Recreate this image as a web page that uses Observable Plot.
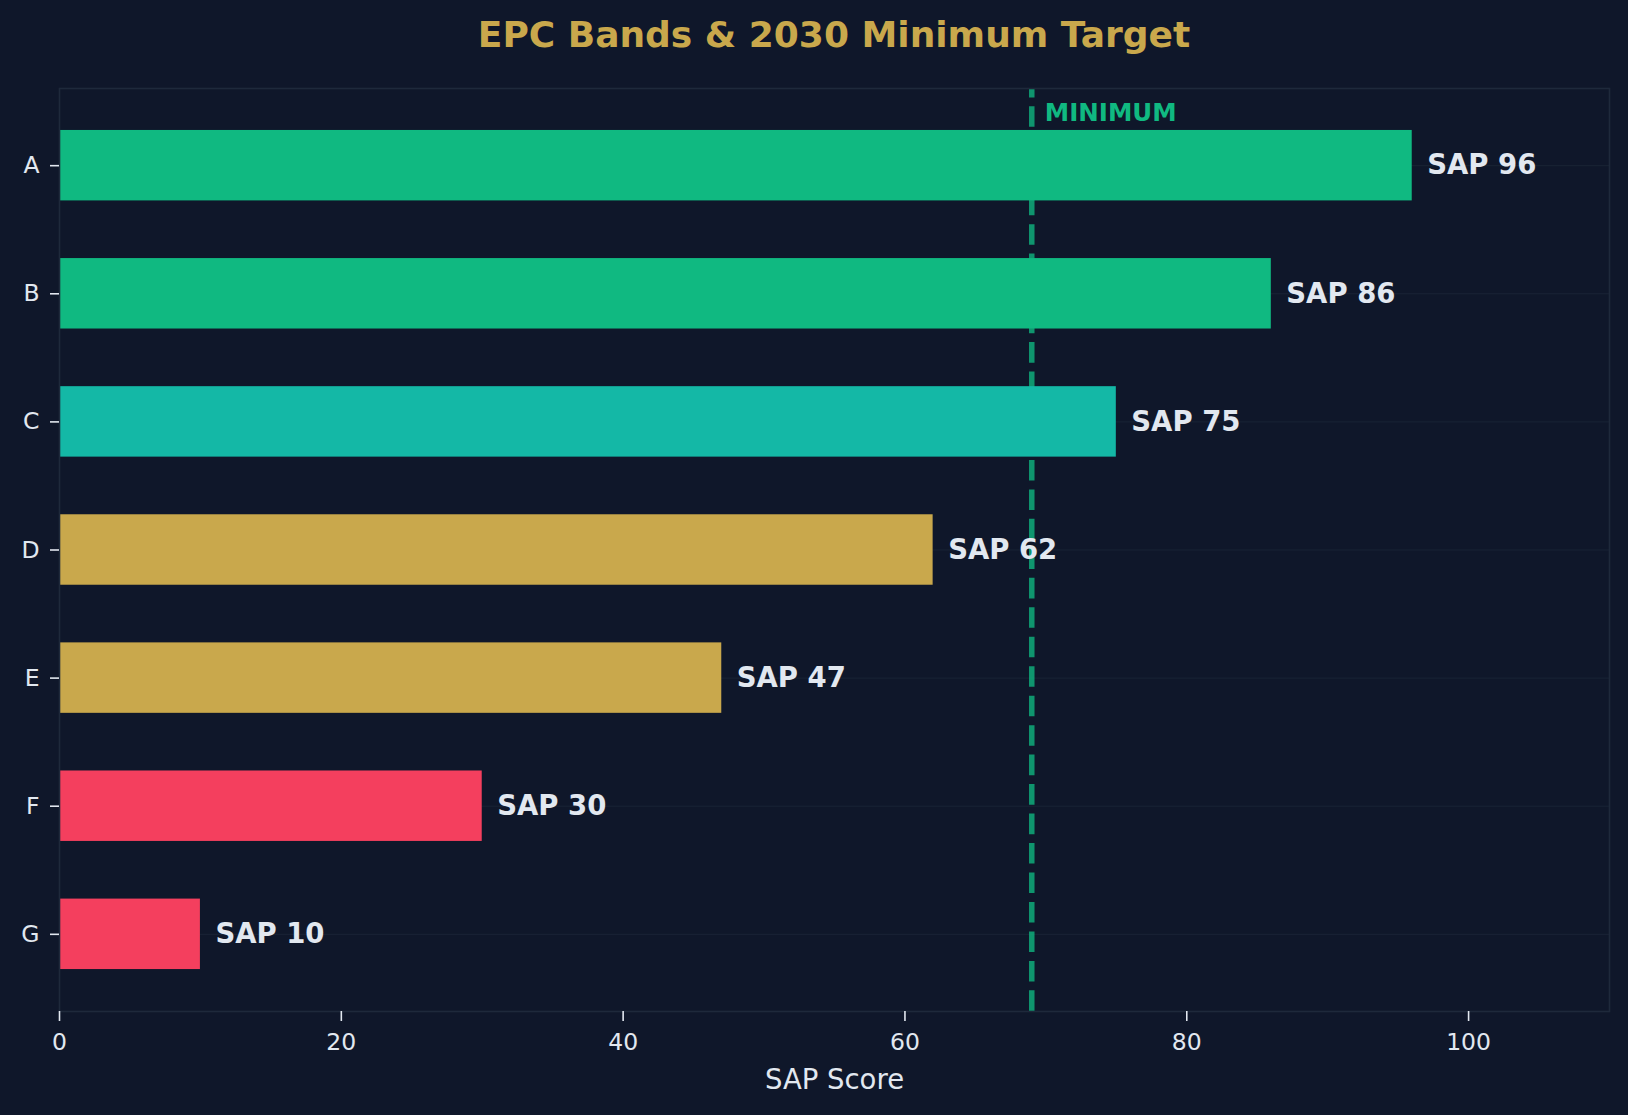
<!DOCTYPE html>
<html>
<head>
<meta charset="utf-8">
<script src="https://cdn.jsdelivr.net/npm/d3@7"></script>
<script src="https://cdn.jsdelivr.net/npm/@observablehq/plot@0.6"></script>
<style>
  html, body { margin: 0; padding: 0; background: #0f172a; }
  #title {
    margin-left: 59px;
    width: 1550px;
    height: 70px;
    font: bold 36px/70px "DejaVu Sans", sans-serif;
    text-align: center;
    color: #c9a84c;
  }
  #chart svg { display: block; }
</style>
</head>
<body>
<div id="title">EPC Bands &amp; 2030 Minimum Target</div>
<div id="chart"></div>
<script>
// EPC rating bands and the typical SAP score for each
const bands = ["A", "B", "C", "D", "E", "F", "G"];
const sapScores = [96, 86, 75, 62, 47, 30, 10];
// Grouping used for bar colour
const tiers = ["top", "top", "target", "mid", "mid", "low", "low"];
// 2030 minimum SAP score
const minimumSap = 69;
const xTicks = [0, 20, 40, 60, 80, 100];

const rows = bands.map((band, i) => ({band, sap: sapScores[i], tier: tiers[i]}));

const ink = "#e2e8f0";
const edge = "#1e293b";

const chart = Plot.plot({
  width: 1628,
  height: 1045,
  marginTop: 18,
  marginBottom: 104,
  marginLeft: 59,
  marginRight: 19,
  style: {fontFamily: "DejaVu Sans, sans-serif", background: "#0f172a", color: ink},
  x: {domain: [0, 110], axis: null},
  y: {domain: bands, axis: null, paddingInner: 0.45, paddingOuter: 0.3275, align: 0.5, round: false},
  color: {
    domain: ["top", "target", "mid", "low"],
    range: ["#10b981", "#14b8a6", "#c9a84c", "#f43f5e"]
  },
  marks: [
    Plot.gridY({stroke: edge, strokeOpacity: 0.7, strokeWidth: 1}),
    Plot.ruleX([minimumSap], {
      stroke: "#10b981",
      strokeOpacity: 0.78,
      strokeWidth: 5.5,
      strokeDasharray: "20.6,8.87",
      strokeDashoffset: 11.2
    }),
    Plot.barX(rows, {x: "sap", y: "band", fill: "tier"}),
    Plot.text(rows, {
      x: "sap",
      y: "band",
      text: (d) => `SAP ${d.sap}`,
      textAnchor: "start",
      dx: 15,
      fontSize: 27.5,
      fontWeight: "bold",
      fill: ink
    }),
    Plot.text(["MINIMUM"], {
      x: () => minimumSap,
      frameAnchor: "top",
      textAnchor: "start",
      lineAnchor: "bottom",
      dx: 13,
      dy: 32,
      fontSize: 24.5,
      fontWeight: "bold",
      fill: "#10b981"
    }),
    Plot.frame({stroke: edge, strokeWidth: 1.6}),
    Plot.axisX({
      ticks: xTicks,
      tickSize: 10,
      tickPadding: 12,
      fontSize: 23.5,
      stroke: ink,
      strokeWidth: 1.6,
      fill: ink,
      label: null
    }),
    Plot.axisY({
      tickSize: 9,
      tickPadding: 11,
      fontSize: 23.5,
      stroke: ink,
      strokeWidth: 1.6,
      fill: ink,
      label: null
    }),
    Plot.text(["SAP Score"], {
      frameAnchor: "bottom",
      lineAnchor: "bottom",
      dy: 77,
      fontSize: 27.5,
      fill: ink
    })
  ]
});

document.getElementById("chart").append(chart);
</script>
</body>
</html>
